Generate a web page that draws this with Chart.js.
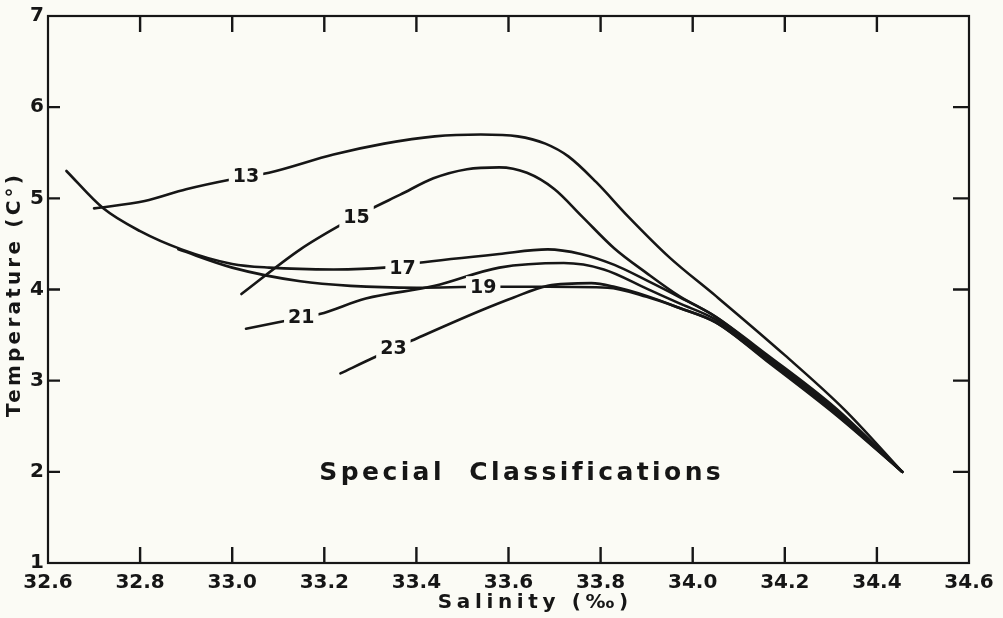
<!DOCTYPE html>
<html>
<head>
<meta charset="utf-8">
<script src="https://cdn.jsdelivr.net/npm/chart.js@4.4.0/dist/chart.umd.min.js"></script>
<style>
  html, body { margin: 0; padding: 0; background: #fbfbf5; }
  #wrap { width: 1003px; height: 618px; }
</style>
</head>
<body>
<div id="wrap"><canvas id="tsChart" width="1003" height="618"></canvas></div>
<script>
// T-S curves, special classifications (salinity in per mille, temperature in C)
const xTicks = [32.6, 32.8, 33.0, 33.2, 33.4, 33.6, 33.8, 34.0, 34.2, 34.4, 34.6];
const yTicks = [1, 2, 3, 4, 5, 6, 7];

const sal13 = [32.70, 32.81, 32.90, 33.00, 33.08, 33.22, 33.33, 33.44, 33.54, 33.62, 33.68, 33.73, 33.79, 33.86, 33.95, 34.05, 34.20, 34.33, 34.455];
const temp13 = [4.89, 4.97, 5.10, 5.21, 5.28, 5.48, 5.60, 5.68, 5.70, 5.68, 5.60, 5.46, 5.18, 4.80, 4.35, 3.93, 3.28, 2.68, 2.00];

const sal15 = [33.02, 33.148, 33.24, 33.30, 33.365, 33.437, 33.51, 33.58, 33.64, 33.70, 33.76, 33.83, 33.90, 33.97, 34.05, 34.16, 34.31, 34.455];
const temp15 = [3.95, 4.44, 4.72, 4.88, 5.04, 5.22, 5.32, 5.34, 5.28, 5.10, 4.80, 4.45, 4.18, 3.93, 3.70, 3.29, 2.70, 2.00];

const sal17 = [32.64, 32.72, 32.80, 32.89, 33.00, 33.08, 33.22, 33.33, 33.40, 33.58, 33.685, 33.757, 33.83, 33.90, 33.97, 34.05, 34.16, 34.31, 34.455];
const temp17 = [5.30, 4.89, 4.64, 4.44, 4.28, 4.24, 4.22, 4.24, 4.29, 4.39, 4.44, 4.39, 4.27, 4.10, 3.92, 3.70, 3.27, 2.68, 2.00];

const sal19 = [32.883, 33.00, 33.148, 33.257, 33.40, 33.55, 33.685, 33.815, 33.90, 33.97, 34.05, 34.16, 34.31, 34.455];
const temp19 = [4.44, 4.24, 4.09, 4.04, 4.02, 4.03, 4.03, 4.02, 3.92, 3.80, 3.64, 3.22, 2.63, 2.00];

const sal21 = [33.03, 33.12, 33.19, 33.29, 33.44, 33.58, 33.72, 33.807, 33.90, 33.97, 34.05, 34.16, 34.31, 34.455];
const temp21 = [3.57, 3.66, 3.73, 3.90, 4.04, 4.24, 4.29, 4.22, 4.01, 3.85, 3.67, 3.25, 2.66, 2.00];

const sal23 = [33.235, 33.315, 33.39, 33.54, 33.61, 33.685, 33.78, 33.83, 33.90, 33.97, 34.05, 34.16, 34.31, 34.455];
const temp23 = [3.08, 3.27, 3.44, 3.77, 3.91, 4.04, 4.07, 4.03, 3.93, 3.80, 3.64, 3.23, 2.64, 2.00];

// curve label names and where they sit on the curves
const curveNames = ['13', '15', '17', '19', '21', '23'];
const labelSal = [33.03, 33.27, 33.37, 33.545, 33.15, 33.35];
const labelTemp = [5.24, 4.80, 4.24, 4.025, 3.70, 3.36];

const INK = '#161616';
const PAPER = '#fbfbf5';

function toPoints(xs, ys) {
  return xs.map((x, i) => ({ x: x, y: ys[i] }));
}

const series = [
  [sal13, temp13], [sal15, temp15], [sal17, temp17],
  [sal19, temp19], [sal21, temp21], [sal23, temp23],
];

const datasets = series.map((s, i) => ({
  label: curveNames[i],
  data: toPoints(s[0], s[1]),
  borderColor: INK,
  borderWidth: 2.6,
  pointRadius: 0,
  fill: false,
  cubicInterpolationMode: 'monotone',
  borderCapStyle: 'round',
  borderJoinStyle: 'round',
}));

// frame with inward tick marks on all four sides
const frameTicks = {
  id: 'frameTicks',
  afterDraw(chart) {
    const { ctx, chartArea: a, scales } = chart;
    const len = 16;
    ctx.save();
    ctx.strokeStyle = INK;
    ctx.lineWidth = 2.2;
    ctx.strokeRect(a.left, a.top, a.right - a.left, a.bottom - a.top);
    ctx.lineWidth = 2.4;
    ctx.beginPath();
    xTicks.slice(1, -1).forEach(v => {
      const px = scales.x.getPixelForValue(v);
      ctx.moveTo(px, a.bottom); ctx.lineTo(px, a.bottom - len);
      ctx.moveTo(px, a.top); ctx.lineTo(px, a.top + len);
    });
    yTicks.slice(1, -1).forEach(v => {
      const py = scales.y.getPixelForValue(v);
      ctx.moveTo(a.left, py); ctx.lineTo(a.left + 12, py);
      ctx.moveTo(a.right, py); ctx.lineTo(a.right - len, py);
    });
    ctx.stroke();
    ctx.restore();
  }
};

// numbers written on the curves, with a paper-coloured gap behind them
const curveLabels = {
  id: 'curveLabels',
  afterDatasetsDraw(chart) {
    const { ctx, scales } = chart;
    ctx.save();
    ctx.font = 'bold 19px "DejaVu Sans"';
    ctx.textAlign = 'center';
    ctx.textBaseline = 'middle';
    curveNames.forEach((name, i) => {
      const px = scales.x.getPixelForValue(labelSal[i]);
      const py = scales.y.getPixelForValue(labelTemp[i]);
      const w = ctx.measureText(name).width + 8;
      ctx.fillStyle = PAPER;
      ctx.fillRect(px - w / 2, py - 11, w, 22);
      ctx.fillStyle = INK;
      ctx.fillText(name, px, py + 1);
    });
    ctx.restore();
  }
};

// spread text so it covers a given width, like the hand lettering
function spacedText(ctx, text, x, y, width) {
  ctx.letterSpacing = '0px';
  const w = ctx.measureText(text).width;
  const gap = Math.max(0, (width - w) / text.length);
  ctx.letterSpacing = gap + 'px';
  ctx.fillText(text, x + gap / 2, y);
}

// axis titles and the panel caption
const titles = {
  id: 'titles',
  afterDraw(chart) {
    const { ctx } = chart;
    ctx.save();
    ctx.fillStyle = INK;
    ctx.textAlign = 'center';
    ctx.textBaseline = 'middle';

    ctx.font = 'bold 20px "DejaVu Sans"';
    spacedText(ctx, 'Salinity (‰)', 533, 603, 195);

    ctx.translate(15, 296);
    ctx.rotate(-Math.PI / 2);
    spacedText(ctx, 'Temperature (C°)', 0, 0, 245);
    ctx.setTransform(1, 0, 0, 1, 0, 0);

    ctx.font = '600 25px "DejaVu Sans"';
    spacedText(ctx, 'Special  Classifications', 520, 473, 404);
    ctx.restore();
  }
};

const paper = {
  id: 'paper',
  beforeDraw(chart) {
    const { ctx, width, height } = chart;
    ctx.save();
    ctx.fillStyle = PAPER;
    ctx.fillRect(0, 0, width, height);
    ctx.restore();
  }
};

new Chart(document.getElementById('tsChart'), {
  type: 'line',
  data: { datasets: datasets },
  options: {
    responsive: false,
    animation: false,
    devicePixelRatio: 1,
    layout: { padding: { top: 14, right: 34, left: 0, bottom: 0 } },
    plugins: {
      legend: { display: false },
      tooltip: { enabled: false },
    },
    scales: {
      x: {
        type: 'linear',
        min: 32.6,
        max: 34.6,
        afterBuildTicks: scale => { scale.ticks = xTicks.map(v => ({ value: v })); },
        afterFit: scale => { scale.height = 55; },
        grid: { display: false, drawTicks: false },
        border: { display: false },
        ticks: {
          color: INK,
          padding: 8,
          maxRotation: 0,
          autoSkip: false,
          font: { family: 'DejaVu Sans', weight: 'bold', size: 20 },
          callback: v => Number(v).toFixed(1),
        },
      },
      y: {
        type: 'linear',
        min: 1,
        max: 7,
        afterBuildTicks: scale => { scale.ticks = yTicks.map(v => ({ value: v })); },
        afterFit: scale => { scale.width = 48; },
        grid: { display: false, drawTicks: false },
        border: { display: false },
        ticks: {
          color: INK,
          padding: 4,
          autoSkip: false,
          font: { family: 'DejaVu Sans', weight: 'bold', size: 20 },
        },
      },
    },
  },
  plugins: [paper, frameTicks, curveLabels, titles],
});
</script>
</body>
</html>
